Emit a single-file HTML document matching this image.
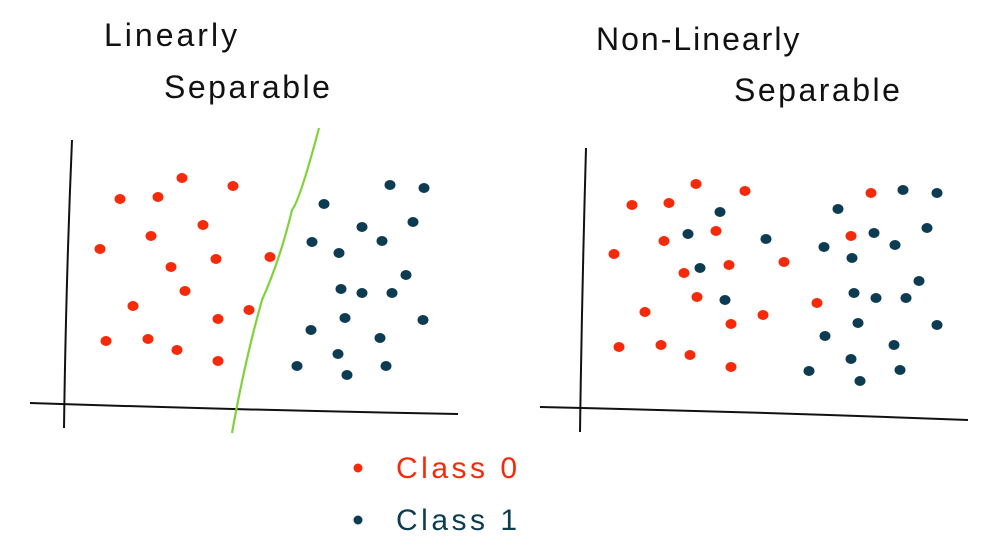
<!DOCTYPE html>
<html><head><meta charset="utf-8"><style>
html,body{margin:0;padding:0;background:#fff;width:1005px;height:552px;overflow:hidden}
svg{display:block}
text{font-family:"Liberation Sans",sans-serif;}
</style></head><body>
<svg id="c" width="1005" height="552">
<text x="104" y="46" font-size="32" fill="#111" letter-spacing="3">Linearly</text>
<text x="164" y="98" font-size="32" fill="#111" letter-spacing="2.5">Separable</text>
<text x="596" y="50" font-size="32" fill="#111" letter-spacing="2">Non-Linearly</text>
<text x="734" y="101" font-size="32" fill="#111" letter-spacing="2.5">Separable</text>
<path d="M72,140 Q66,280 64,428" stroke="#111" stroke-width="2" fill="none"/>
<path d="M30,403 Q240,410 458,414" stroke="#111" stroke-width="2" fill="none"/>
<path d="M586,148 Q582,290 580,432" stroke="#111" stroke-width="2" fill="none"/>
<path d="M540,407 Q760,412 968,420" stroke="#111" stroke-width="2" fill="none"/>
<path d="M319,128 Q300,200 292,210 Q280,260 262,300 Q245,360 232,433" stroke="#7ed33a" stroke-width="2.2" fill="none"/>
<circle cx="358" cy="468" r="4.5" fill="#f52a0a"/>
<text x="396" y="478" font-size="30" fill="#f52a0a" letter-spacing="3.5">Class 0</text>
<circle cx="358" cy="520" r="4.5" fill="#0d3b52"/>
<text x="396" y="530" font-size="30" fill="#0d3b52" letter-spacing="3.5">Class 1</text>
<g id="pts"></g>
</svg>
<script>
// data in panel units: x from left axis, y up from bottom axis
const leftRedX=[52,90,114,165,135,83,32,148,103,202,117,65,150,181,38,80,109,150];
const leftRedY=[206,208,227,219,180,169,156,146,138,148,114,99,86,95,64,66,55,44];
const leftBlueX=[322,356,256,294,345,244,271,314,338,273,294,324,277,355,243,312,270,229,318,279];
const leftBlueY=[220,217,201,178,183,163,152,164,130,116,112,112,87,85,75,67,51,39,39,30];
const rightRedX=[49,86,113,162,133,81,31,146,201,101,114,62,148,180,36,78,107,148,288,268,234];
const rightRedY=[205,207,226,219,179,169,156,145,148,137,113,98,86,95,63,65,55,43,217,174,107];
const rightBlueX=[137,105,183,117,142,255,320,354,291,344,241,269,312,336,271,293,323,275,354,242,311,268,226,317,277];
const rightBlueY=[198,176,171,142,110,201,220,217,177,182,163,152,165,129,117,112,112,87,85,74,65,51,39,40,29];
const panels=[{ox:68,oy:405},{ox:583,oy:410}];
function sx(p,v){return panels[p].ox+v;}
function sy(p,v){return panels[p].oy-v;}
const g=document.getElementById('pts');
function draw(p,xs,ys,col,name){
  for(let i=0;i<xs.length;i++){
    const c=document.createElementNS('http://www.w3.org/2000/svg','ellipse');
    c.setAttribute('cx',sx(p,xs[i]));c.setAttribute('cy',sy(p,ys[i]));
    c.setAttribute('rx',5.5);c.setAttribute('ry',5);c.setAttribute('fill',col);
    
    
    g.appendChild(c);
  }
}
draw(0,leftRedX,leftRedY,'#f52a0a','left-class0-point');
draw(0,leftBlueX,leftBlueY,'#0d3b52','left-class1-point');
draw(1,rightRedX,rightRedY,'#f52a0a','right-class0-point');
draw(1,rightBlueX,rightBlueY,'#0d3b52','right-class1-point');
</script>
</body></html>
